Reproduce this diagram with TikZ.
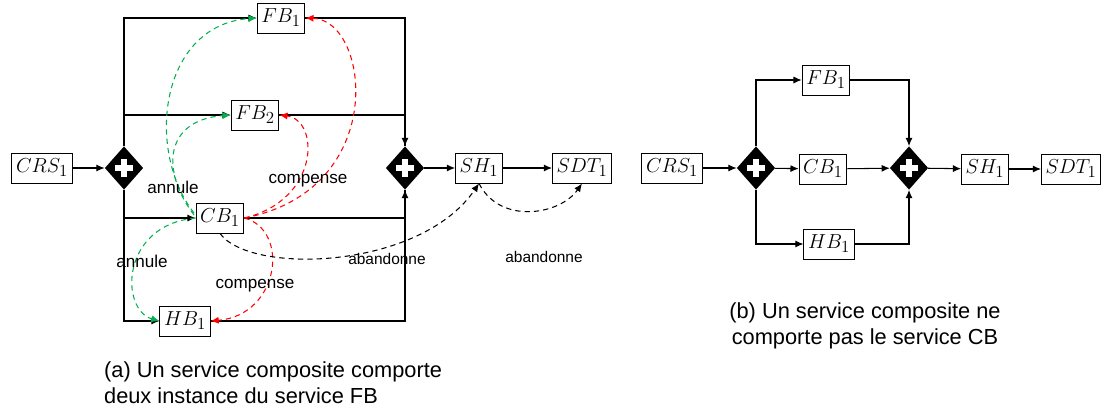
\documentclass[tikz,border=0pt]{standalone}
\usepackage{fontspec}
\setmainfont{Liberation Sans}
\usetikzlibrary{arrows.meta,shapes.geometric}
\definecolor{annul}{HTML}{00B050}
\definecolor{comp}{HTML}{FF0000}

\begin{document}
\begin{tikzpicture}[x=0.03cm,y=-0.03cm,font=\fontsize{14.6}{17}\selectfont,
 svc/.style={draw,line width=.8pt,fill=white,minimum height=.9cm,inner xsep=3.5pt,inner ysep=1pt,font=\fontsize{19}{22}\selectfont},
 gate/.style={diamond,fill=black,minimum width=1.15cm,minimum height=1.3cm,inner sep=0pt,
  path picture={\draw[white,line width=1.6mm] (path picture bounding box.center) +(-.27cm,0)--+(.27cm,0)
   (path picture bounding box.center) +(0,-.27cm)--+(0,.27cm);}},
 flow/.style={-{Latex[length=7pt,width=6pt]},line width=.9pt},
 link/.style={line width=.9pt},
 cancel/.style={flow,draw=annul,dash pattern=on 4.5pt off 3.5pt},
 offset/.style={flow,draw=comp,dash pattern=on 4.5pt off 3.5pt},
 quit/.style={flow,dash pattern=on 4.5pt off 3.5pt},
 note/.style={font=\fontsize{13.2}{15}\selectfont},
 legend/.style={align=left,anchor=north west,font=\fontsize{18.6}{22}\selectfont}]
\path[use as bounding box] (0,0) rectangle (1103,410);

% (a) two instances of FB
\node[svc] (crs) at (42,168) {$CRS_1$};
\node[gate] (split) at (124,168) {};
\node[svc] (fb1) at (281,18) {$FB_1$};
\node[svc] (fb2) at (255,115) {$FB_2$};
\node[svc] (cb1) at (220,218) {$CB_1$};
\node[svc] (hb1) at (185,321) {$HB_1$};
\node[gate] (join) at (405,168) {};
\node[svc] (sh1) at (479,168) {$SH_1$};
\node[svc] (sdt1) at (582,168) {$SDT_1$};
\draw[flow] (crs)--(split);
\draw[flow] (split.north)|-(fb1.west);
\draw[flow] (split.north)|-(fb2.west);
\draw[flow] (split.south)|-(cb1.west);
\draw[flow] (split.south)|-(hb1.west);
\draw[flow] (fb1.east)-|(join.north);
\draw[link] (fb2.east)-|(join.north);
\draw[flow] (cb1.east)-|(join.south);
\draw[link] (hb1.east)-|(join.south);
\draw[flow] (join)--(sh1);
\draw[flow] (sh1)--(sdt1);
% recovery actions
\draw[cancel] (194,213) .. controls (145,150) and (160,25) .. (fb1.west);
\draw[cancel] (194,215) .. controls (160,170) and (165,120) .. (fb2.west);
\draw[cancel] (cb1.west) .. controls (120,225) and (120,310) .. (hb1.west);
\draw[offset] (cb1.east) .. controls (390,190) and (370,20) .. (fb1.east);
\draw[offset] (cb1.east) .. controls (320,200) and (320,120) .. (fb2.east);
\draw[offset] (cb1.east) .. controls (290,230) and (280,315) .. (hb1.east);
\draw[quit] (cb1.south) .. controls (250,275) and (420,270) .. (sh1.south);
\draw[quit] (sh1.south) .. controls (500,225) and (560,215) .. (sdt1.south);
\node (an1) at (173,187) {annule};
\node (co1) at (308,181) {compense};
\node (an2) at (142,261) {annule};
\node (co2) at (255,286) {compense};
\node[note] (ab1) at (387,259) {abandonne};
\node[note] (ab2) at (544,257) {abandonne};
\node[legend] (capa) at (100,358) {(a) Un service composite comporte\\deux instance du service FB};

% (b) no CB service
\node[svc] (crsb) at (672,168) {$CRS_1$};
\node[gate] (splitb) at (756,168) {};
\node[svc] (fbb) at (826,80) {$FB_1$};
\node[svc] (cbb) at (823,169) {$CB_1$};
\node[svc] (hbb) at (829,244) {$HB_1$};
\node[gate] (joinb) at (909,168) {};
\node[svc] (shb) at (985,169) {$SH_1$};
\node[svc] (sdtb) at (1071,169) {$SDT_1$};
\draw[flow] (crsb)--(splitb);
\draw[flow] (splitb.north)|-(fbb.west);
\draw[flow] (splitb)--(cbb);
\draw[flow] (splitb.south)|-(hbb.west);
\draw[flow] (fbb.east)-|(joinb.north);
\draw[flow] (cbb)--(joinb);
\draw[flow] (hbb.east)-|(joinb.south);
\draw[flow] (joinb)--(shb);
\draw[flow] (shb)--(sdtb);
\node[legend,align=center,anchor=north] (capb) at (865,299) {(b) Un service composite ne\\comporte pas le service CB};
\end{tikzpicture}
\end{document}
